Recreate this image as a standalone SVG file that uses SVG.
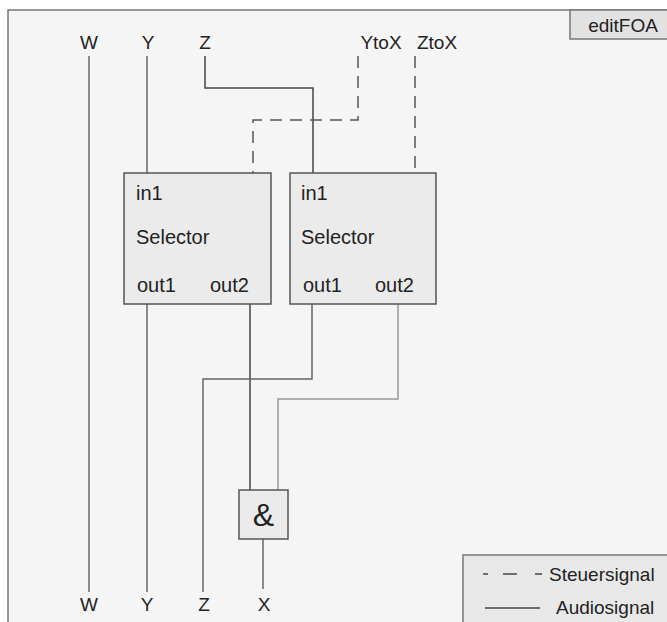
<svg xmlns="http://www.w3.org/2000/svg" width="667" height="622" viewBox="0 0 667 622">
  <style>
    text { font-family: "Liberation Sans", Arial, sans-serif; fill: #222; }
    .lbl { font-size: 19px; text-anchor: middle; }
    .box { fill: #ebebeb; stroke: #555; stroke-width: 1.5; }
    .port { font-size: 20px; }
    .audio { fill: none; stroke: #666; stroke-width: 1.5; }
    .dark { stroke: #444; }
    .light { stroke: #999; }
    .ctrl { fill: none; stroke: #555; stroke-width: 1.5; stroke-dasharray: 12 8; }
  </style>

  <!-- canvas and frame -->
  <rect x="0" y="0" width="667" height="622" fill="#ffffff"/>
  <rect x="8" y="10" width="680" height="640" fill="#f5f5f5" stroke="#777" stroke-width="1.5"/>

  <!-- frame title tab -->
  <g id="title">
    <rect x="570" y="10" width="110" height="29" fill="#e2e2e2" stroke="#777" stroke-width="1.5"/>
    <text x="623" y="32" font-size="19" text-anchor="middle">editFOA</text>
  </g>

  <!-- signal labels -->
  <g id="inputs">
    <text class="lbl" x="89" y="49">W</text>
    <text class="lbl" x="148" y="49">Y</text>
    <text class="lbl" x="205" y="49">Z</text>
    <text class="lbl" x="381" y="49">YtoX</text>
    <text class="lbl" x="437" y="49">ZtoX</text>
  </g>
  <g id="outputs">
    <text class="lbl" x="89" y="611">W</text>
    <text class="lbl" x="147" y="611">Y</text>
    <text class="lbl" x="204" y="611">Z</text>
    <text class="lbl" x="264" y="611">X</text>
  </g>

  <!-- connectors -->
  <g id="connectors">
    <!-- W passes straight through -->
    <line class="audio" x1="89" y1="56" x2="89" y2="592"/>
    <!-- Y into selector 1 -->
    <line class="audio" x1="147" y1="56" x2="147" y2="173"/>
    <!-- Z into selector 2 -->
    <polyline class="audio dark" points="205,56 205,88 313,88 313,173"/>
    <!-- control signals -->
    <polyline class="ctrl" points="358,56 358,120 253,120 253,173"/>
    <line class="ctrl" x1="415" y1="56" x2="415" y2="173"/>
    <!-- selector 1 outputs -->
    <line class="audio" x1="147" y1="304" x2="147" y2="592"/>
    <line class="audio dark" x1="250" y1="304" x2="250" y2="490"/>
    <!-- selector 2 outputs -->
    <polyline class="audio" points="312,304 312,379 203,379 203,592"/>
    <polyline class="audio light" points="398,304 398,399 278,399 278,490"/>
    <!-- AND output -->
    <line class="audio" x1="263" y1="539" x2="263" y2="589"/>
  </g>

  <!-- selector nodes -->
  <g id="selector1">
    <rect class="box" x="124" y="173" width="147" height="131"/>
    <text class="port" x="136" y="200">in1</text>
    <text class="port" x="136" y="244">Selector</text>
    <text class="port" x="137" y="292">out1</text>
    <text class="port" x="210" y="292">out2</text>
  </g>
  <g id="selector2">
    <rect class="box" x="290" y="173" width="146" height="131"/>
    <text class="port" x="301" y="200">in1</text>
    <text class="port" x="301" y="244">Selector</text>
    <text class="port" x="303" y="292">out1</text>
    <text class="port" x="375" y="292">out2</text>
  </g>

  <!-- AND node -->
  <g id="and">
    <rect class="box" x="239" y="490" width="49" height="49"/>
    <text x="263.5" y="526" font-size="32" text-anchor="middle">&amp;</text>
  </g>

  <!-- legend -->
  <g id="legend">
    <rect x="463" y="555" width="220" height="80" fill="#e8e8e8" stroke="#777" stroke-width="1.5"/>
    <line x1="483" y1="574" x2="488" y2="574" stroke="#444" stroke-width="1.5"/>
    <line x1="503" y1="574" x2="517" y2="574" stroke="#444" stroke-width="1.5"/>
    <line x1="535" y1="574" x2="542" y2="574" stroke="#444" stroke-width="1.5"/>
    <text x="549" y="581" font-size="19">Steuersignal</text>
    <line x1="485" y1="608" x2="540" y2="608" stroke="#444" stroke-width="1.5"/>
    <text x="556" y="614" font-size="19">Audiosignal</text>
  </g>
</svg>
